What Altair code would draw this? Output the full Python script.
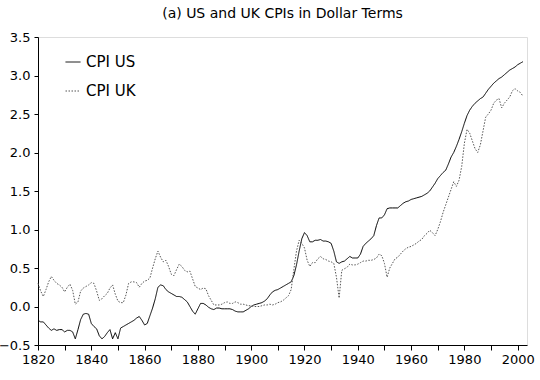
import altair as alt
import pandas as pd

us_years = list(range(1820, 2003))
us_vals = [
    -0.18, -0.20, -0.20, -0.24, -0.28, -0.31, -0.29, -0.31, -0.30, -0.30,   # 1820-1829
    -0.33, -0.31, -0.31, -0.33, -0.42, -0.30, -0.17, -0.10, -0.09, -0.10,   # 1830-1839
    -0.22, -0.26, -0.29, -0.38, -0.42, -0.39, -0.34, -0.30, -0.42, -0.34,   # 1840-1849
    -0.42, -0.28, -0.26, -0.24, -0.22, -0.20, -0.18, -0.15, -0.13, -0.18,   # 1850-1859
    -0.24, -0.22, -0.12, -0.02, 0.10, 0.25, 0.28, 0.27, 0.22, 0.19,          # 1860-1869
    0.17, 0.15, 0.13, 0.13, 0.12, 0.09, 0.06, 0.00, -0.06, -0.10,           # 1870-1879
    -0.03, 0.04, 0.04, 0.02, -0.01, -0.03, -0.04, -0.02, -0.02, -0.03,      # 1880-1889
    -0.03, -0.03, -0.03, -0.04, -0.06, -0.07, -0.07, -0.07, -0.05, -0.03,   # 1890-1899
    0.00, 0.02, 0.03, 0.04, 0.05, 0.07, 0.10, 0.15, 0.19, 0.21,             # 1900-1909
    0.22, 0.24, 0.26, 0.28, 0.30, 0.32, 0.40, 0.54, 0.72, 0.88,             # 1910-1919
    0.96, 0.92, 0.84, 0.84, 0.86, 0.86, 0.87, 0.85, 0.85, 0.84,             # 1920-1929
    0.82, 0.72, 0.58, 0.56, 0.58, 0.59, 0.62, 0.65, 0.63, 0.63,             # 1930-1939
    0.63, 0.68, 0.78, 0.82, 0.85, 0.88, 0.92, 1.05, 1.15, 1.15,             # 1940-1949
    1.19, 1.27, 1.28, 1.28, 1.28, 1.28, 1.31, 1.34, 1.36, 1.37,             # 1950-1959
    1.39, 1.40, 1.41, 1.42, 1.43, 1.45, 1.47, 1.50, 1.55, 1.60,             # 1960-1969
    1.66, 1.70, 1.74, 1.77, 1.85, 1.94, 2.00, 2.08, 2.17, 2.27,             # 1970-1979
    2.38, 2.48, 2.55, 2.60, 2.64, 2.67, 2.70, 2.72, 2.77, 2.82,             # 1980-1989
    2.86, 2.90, 2.93, 2.96, 2.98, 3.01, 3.04, 3.07, 3.09, 3.11,             # 1990-1999
    3.14, 3.16, 3.18,                                                       # 2000-2002
]

uk_years = list(range(1820, 2003))
uk_vals = [
    0.30, 0.20, 0.13, 0.22, 0.32, 0.39, 0.34, 0.30, 0.28, 0.25,             # 1820-1829
    0.19, 0.25, 0.29, 0.21, 0.03, 0.06, 0.20, 0.24, 0.26, 0.28,             # 1830-1839
    0.31, 0.30, 0.20, 0.08, 0.10, 0.14, 0.17, 0.24, 0.28, 0.16,             # 1840-1849
    0.07, 0.05, 0.05, 0.15, 0.30, 0.32, 0.32, 0.31, 0.25, 0.30,             # 1850-1859
    0.33, 0.34, 0.37, 0.50, 0.62, 0.72, 0.64, 0.58, 0.60, 0.52,             # 1860-1869
    0.42, 0.40, 0.48, 0.55, 0.52, 0.47, 0.45, 0.46, 0.36, 0.26,             # 1870-1879
    0.24, 0.22, 0.24, 0.23, 0.14, 0.08, 0.02, 0.02, 0.02, 0.03,             # 1880-1889
    0.05, 0.06, 0.04, 0.04, 0.06, 0.05, 0.03, 0.03, 0.02, 0.01,             # 1890-1899
    0.01, 0.00, 0.00, 0.00, 0.01, 0.02, 0.02, 0.03, 0.02, 0.03,             # 1900-1909
    0.05, 0.06, 0.08, 0.11, 0.14, 0.22, 0.48, 0.72, 0.86, 0.82,             # 1910-1919
    0.76, 0.60, 0.52, 0.57, 0.57, 0.62, 0.65, 0.62, 0.61, 0.59,             # 1920-1929
    0.58, 0.56, 0.38, 0.11, 0.47, 0.49, 0.51, 0.55, 0.54, 0.54,             # 1930-1939
    0.55, 0.57, 0.59, 0.59, 0.60, 0.60, 0.61, 0.63, 0.68, 0.66,             # 1940-1949
    0.56, 0.38, 0.50, 0.56, 0.62, 0.64, 0.68, 0.72, 0.75, 0.77,             # 1950-1959
    0.78, 0.80, 0.82, 0.85, 0.87, 0.92, 0.95, 0.99, 0.96, 0.92,             # 1960-1969
    1.00, 1.10, 1.22, 1.32, 1.42, 1.52, 1.62, 1.56, 1.64, 1.82,             # 1970-1979
    2.12, 2.30, 2.25, 2.15, 2.05, 2.00, 2.10, 2.28, 2.46, 2.50,             # 1980-1989
    2.55, 2.64, 2.68, 2.70, 2.58, 2.64, 2.68, 2.72, 2.80, 2.83,             # 1990-1999
    2.80, 2.78, 2.73,                                                       # 2000-2002
]

series_names = ["CPI US", "CPI UK"]
x_ticks = list(range(1820, 2001, 10))
y_ticks = [-0.5, 0.0, 0.5, 1.0, 1.5, 2.0, 2.5, 3.0, 3.5]

df = pd.concat([
    pd.DataFrame({"year": us_years, "value": us_vals, "series": series_names[0]}),
    pd.DataFrame({"year": uk_years, "value": uk_vals, "series": series_names[1]}),
])

FONT = "DejaVu Sans"

def legend():
    return alt.Legend(title=None, orient="none", legendX=27, legendY=17,
                      symbolType="stroke", symbolSize=225,
                      symbolStrokeWidth=1, labelFontSize=15,
                      labelFont=FONT, labelColor="black",
                      rowPadding=13, padding=0, labelOffset=5)

chart = alt.Chart(df).mark_line(strokeWidth=1).encode(
    x=alt.X("year:Q",
            scale=alt.Scale(domain=[1820, 2003.5], nice=False, zero=False),
            axis=alt.Axis(values=x_ticks, format="d", title=None, grid=False,
                          labelExpr="datum.value % 20 == 0 ? datum.label : ''",
                          tickSize=5, labelPadding=3, domainColor="black",
                          tickColor="black", labelFlush=False,
                          labelFont=FONT, labelFontSize=13, labelColor="black",
                          labelOverlap=False)),
    y=alt.Y("value:Q",
            scale=alt.Scale(domain=[-0.5, 3.5], nice=False, zero=False),
            axis=alt.Axis(values=y_ticks, format=".1f", title=None, grid=False,
                          tickSize=4, labelPadding=4, domainColor="black",
                          tickColor="black", labelFlush=False,
                          labelFont=FONT, labelFontSize=13, labelColor="black",
                          labelOverlap=False)),
    color=alt.Color("series:N",
                    scale=alt.Scale(domain=series_names, range=["#000000", "#555555"]),
                    legend=legend()),
    strokeDash=alt.StrokeDash("series:N",
                              scale=alt.Scale(domain=series_names, range=[[1, 0], [1.5, 1.5]]),
                              legend=legend()),
).properties(
    width=489, height=308,
    title=alt.TitleParams("(a) US and UK CPIs in Dollar Terms", font=FONT, fontSize=14,
                          fontWeight="normal", color="black", offset=10),
    autosize=alt.AutoSizeParams(type="none"),
    padding={"left": 38, "top": 37, "right": 13, "bottom": 35},
).configure_view(
    stroke="#a0a0a0", strokeWidth=1.5
).configure(background="white")

chart.save("out.html", embed_options={"renderer": "svg", "actions": False})
